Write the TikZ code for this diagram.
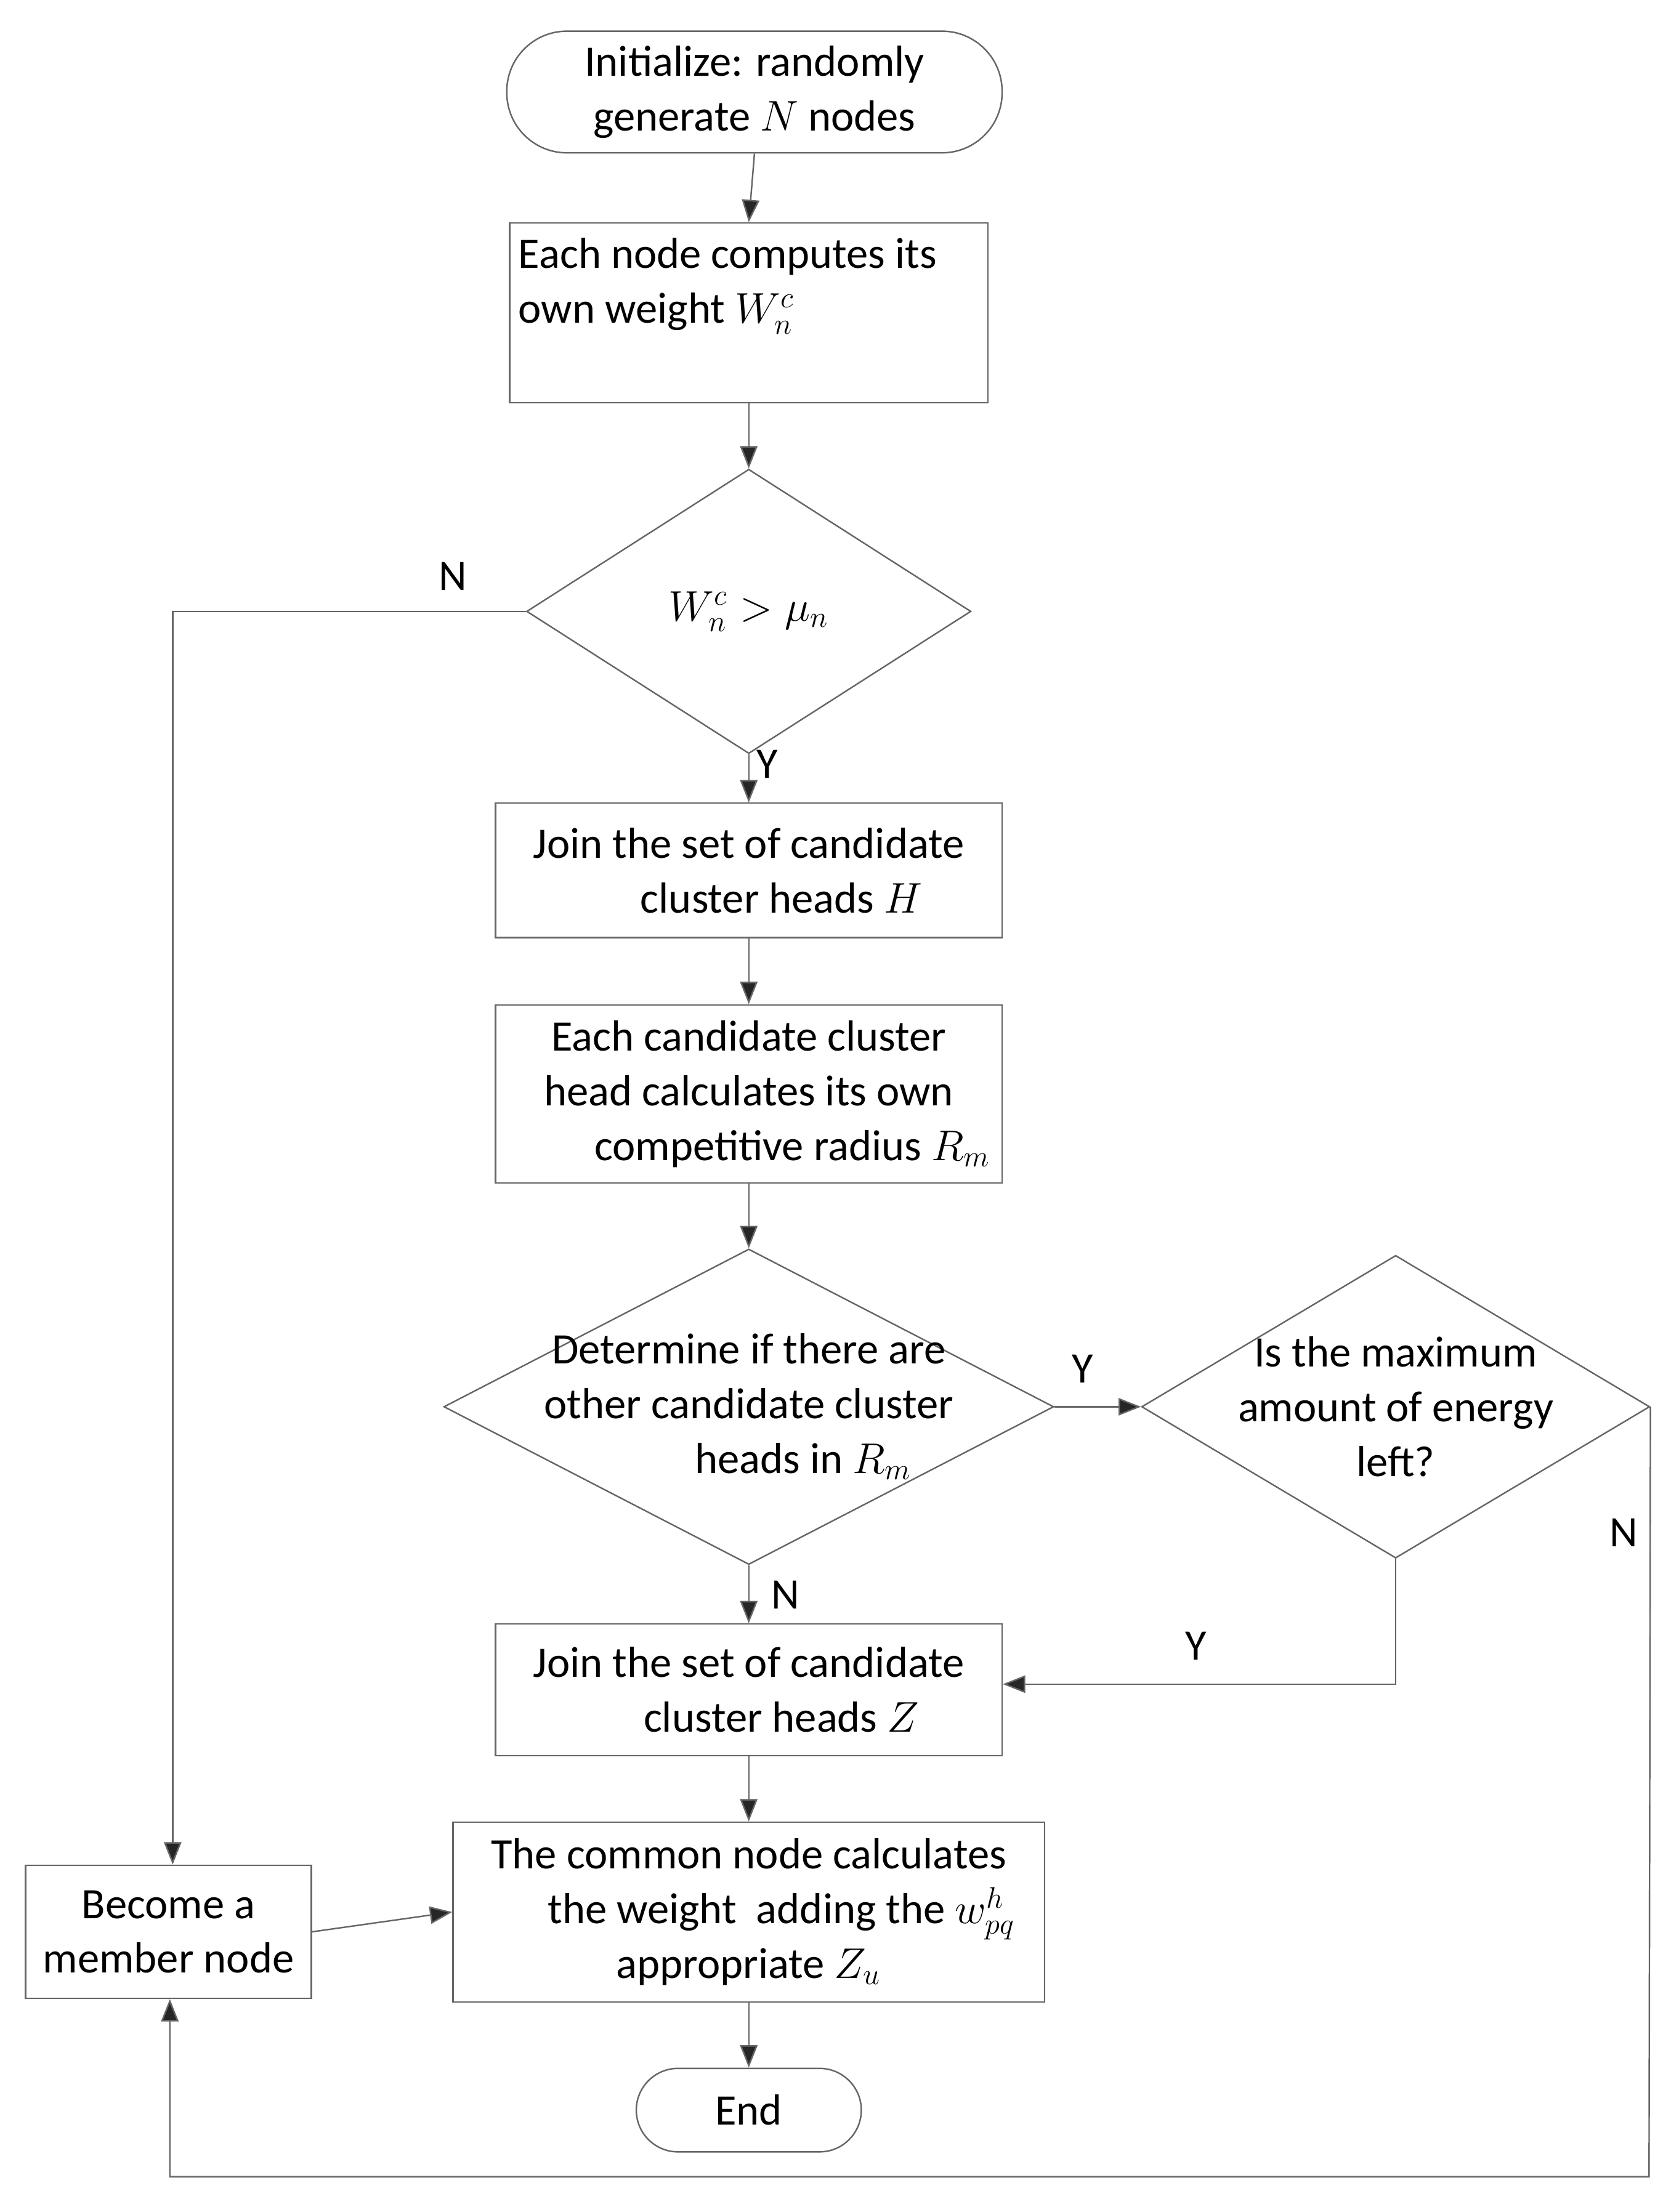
\documentclass[tikz,border=0pt]{standalone}
\usepackage{fontspec}
\setmainfont{Carlito}
\usetikzlibrary{shapes.geometric,arrows.meta}
\begin{document}
\begin{tikzpicture}[x=0.02cm,y=-0.02cm,
  every node/.style={font=\fontsize{17.5}{22}\selectfont, text=black},
  box/.style={draw=gray!80!black, line width=0.6pt, rectangle, inner sep=0pt, align=center},
  dia/.style={draw=gray!80!black, line width=0.6pt, diamond, inner sep=0pt},
  ln/.style={draw=gray!80!black, line width=0.6pt},
  ar/.style={ln, -{Triangle[length=9pt,width=7pt,fill=gray!30!black]}},
  lab/.style={font=\fontsize{17.5}{18}\selectfont}]
\useasboundingbox (0,0) rectangle (1186,1563);
\node[box, rounded corners=0.85cm, minimum width=7cm, minimum height=1.72cm] (start) at (533,65) {Initialize: randomly\\generate $N$ nodes};
\node[box, minimum width=6.76cm, minimum height=2.54cm] (b1) at (529,221) {};
\node[anchor=north west, align=left, inner sep=0pt] (b1t) at (366,168) {Each node computes its\\own weight $W_n^c$};
\node[dia, minimum width=6.28cm, minimum height=4.02cm] (d1) at (529,432) {};
\node (d1t) at (529,432) {$W_n^c>\mu_n$};
\node[box, minimum width=7.16cm, minimum height=1.9cm] (b2) at (529,615) {Join the set of candidate\\\hspace*{1.5em}cluster heads $H$};
\node[box, minimum width=7.16cm, minimum height=2.52cm] (b3) at (529,773) {Each candidate cluster\\head calculates its own\\\hspace*{2em}competitive radius $R_m$};
\node[dia, minimum width=8.62cm, minimum height=4.46cm] (d2) at (529,994) {};
\node[align=center] (d2t) at (529,994) {Determine if there are\\other candidate cluster\\\hspace*{2.5em}heads in $R_m$};
\node[dia, minimum width=7.18cm, minimum height=4.28cm] (d3) at (986,994) {};
\node[align=center] (d3t) at (986,994) {Is the maximum\\amount of energy\\left?};
\node[box, minimum width=7.16cm, minimum height=1.86cm] (b4) at (529,1194) {Join the set of candidate\\\hspace*{1.5em}cluster heads $Z$};
\node[box, minimum width=8.36cm, minimum height=2.54cm] (b5) at (529,1351) {The common node calculates\\\hspace*{1.5em}the weight\ \ adding the $w_{pq}^h$\\appropriate $Z_u$};
\node[box, minimum width=4.04cm, minimum height=1.88cm] (mem) at (119,1365) {Become a\\member node};
\node[box, rounded corners=0.59cm, minimum width=3.18cm, minimum height=1.18cm] (end) at (529,1491) {End};
\coordinate (c1) at (122,432);
\coordinate (c2) at (986,1190);
\coordinate (c3) at (1165,1538);
\coordinate (c4) at (120,1538);
\draw[ar] (start.south) -- (b1.north);
\draw[ar] (b1.south) -- (d1.north);
\draw[ar] (d1.south) -- (b2.north);
\draw[ar] (b2.south) -- (b3.north);
\draw[ar] (b3.south) -- (d2.north);
\draw[ar] (d2.east) -- (d3.west);
\draw[ar] (d2.south) -- (b4.north);
\draw[ar] (d3.south) -- (c2) -- (b4.east |- c2);
\draw[ar] (b4.south) -- (b5.north);
\draw[ar] (b5.south) -- (end.north);
\draw[ar] (d1.west) -- (c1) -- (c1 |- mem.north);
\draw[ar] (d3.east) -- (c3) -- (c4) -- (c4 |- mem.south);
\draw[ar] (mem.east) -- (b5.west);
\node[lab] (l1) at (320,407) {N};
\node[lab] (l2) at (542,540) {Y};
\node[lab] (l3) at (765,967) {Y};
\node[lab] (l4) at (1147,1083) {N};
\node[lab] (l5) at (845,1163) {Y};
\node[lab] (l6) at (555,1127) {N};
\end{tikzpicture}
\end{document}
